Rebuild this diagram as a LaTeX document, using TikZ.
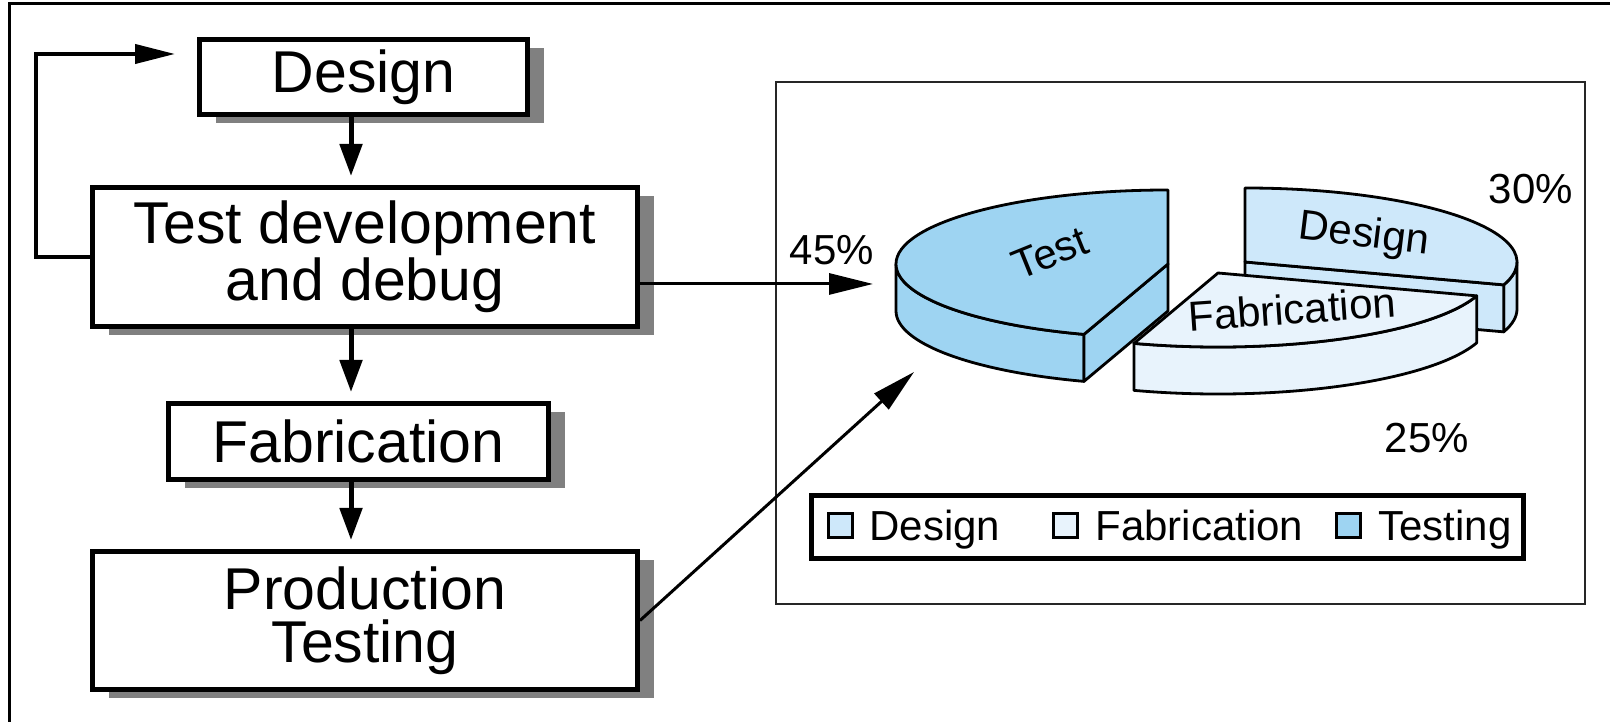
\documentclass[tikz,border=0pt]{standalone}
\usepackage{fontspec}
\setmainfont{Liberation Sans}
\usetikzlibrary{arrows.meta,shadows,calc}
\definecolor{testblue}{RGB}{158,212,242}
\definecolor{designblue}{RGB}{206,232,250}
\definecolor{fabblue}{RGB}{232,243,252}
\definecolor{shadowgray}{RGB}{128,128,128}
\begin{document}
\begin{tikzpicture}[x=0.5pt,y=0.5pt,
  flowbox/.style={draw=black, line width=2.5pt, fill=white, inner sep=0pt, align=center,
    font=\fontsize{29.5}{26.5}\selectfont,
    drop shadow={shadow xshift=8pt, shadow yshift=-4.5pt, fill=shadowgray, opacity=1}},
  flowarrow/.style={line width=2.5pt, -{Triangle[length=16pt,width=11pt]}, shorten >=4.5pt},
  looparrow/.style={line width=2pt, -{Triangle[length=20pt,width=9.5pt]}, shorten >=11pt},
  piearrow/.style={line width=1.5pt, -{Triangle[length=22pt,width=10.5pt]}},
  slice/.style={draw=black, line width=1.4pt, line join=round},
  smalltext/.style={font=\fontsize{21}{24}\selectfont, inner sep=0pt},
  legsq/.style={draw=black, line width=1.5pt, minimum size=12pt, inner sep=0pt},
  pr/.style={x radius=136pt, y radius=37pt}
]
\useasboundingbox (0,0) rectangle (1610,722);
% outer frame
\draw[line width=1.5pt] (9,0) -- (9,718) -- (1610,718);

% flowchart
\node[flowbox, minimum width=164pt, minimum height=37.5pt] (design) at (363.5,645) {Design};
\node[flowbox, minimum width=272.5pt, minimum height=69.5pt] (test) at (365,465) {Test development\\and debug};
\node[flowbox, minimum width=190pt, minimum height=38pt] (fab) at (358.5,280.5) {Fabrication};
\node[flowbox, minimum width=272.5pt, minimum height=69pt] (prod) at (365,101.5) {Production\\Testing};

\coordinate (ax) at (351,0);
\coordinate (fb) at (36,668);
\draw[flowarrow] (design.south -| ax) -- (test.north -| ax);
\draw[flowarrow] (test.south -| ax) -- (fab.north -| ax);
\draw[flowarrow] (fab.south -| ax) -- (prod.north -| ax);
\draw[looparrow] (test.west) -| (fb) -- (design.west |- fb);

% right panel
\draw[line width=1pt, draw=black!85] (776,118) rectangle (1585,640);

% pie chart
\coordinate (dc) at (1245,460);
\coordinate (tc) at (1168,458);
\coordinate (fc) at (1218,449);

% Design slice (342 -> 450)
\filldraw[slice, fill=designblue] ($(dc)+(342:136pt and 37pt)$) arc[pr, start angle=342, end angle=360] -- ++(0,-23.5pt) arc[pr, start angle=360, end angle=342] -- cycle;
\filldraw[slice, fill=designblue] (dc) -- ($(dc)+(342:136pt and 37pt)$) -- ++(0,-23.5pt) -- ([yshift=-23.5pt]dc) -- cycle;
\filldraw[slice, fill=designblue] (dc) -- ($(dc)+(342:136pt and 37pt)$) arc[pr, start angle=342, end angle=450] -- cycle;

% Test slice (90 -> 252)
\filldraw[slice, fill=testblue] ($(tc)+(180:136pt and 37pt)$) arc[pr, start angle=180, end angle=252] -- ++(0,-23.5pt) arc[pr, start angle=252, end angle=180] -- cycle;
\filldraw[slice, fill=testblue] (tc) -- ($(tc)+(252:136pt and 37pt)$) -- ++(0,-23.5pt) -- ([yshift=-23.5pt]tc) -- cycle;
\filldraw[slice, fill=testblue] (tc) -- ($(tc)+(90:136pt and 37pt)$) arc[pr, start angle=90, end angle=252] -- cycle;

% Fabrication slice (252 -> 342)
\filldraw[slice, fill=fabblue] ($(fc)+(252:136pt and 37pt)$) arc[pr, start angle=252, end angle=342] -- ++(0,-23.5pt) arc[pr, start angle=342, end angle=252] -- cycle;
\filldraw[slice, fill=fabblue] (fc) -- ($(fc)+(252:136pt and 37pt)$) arc[pr, start angle=252, end angle=342] -- cycle;

% slice labels
\node[smalltext, rotate=22] (ltest) at (1050,469) {Test};
\node[smalltext, rotate=-7] (ldesign) at (1364,486) {Design};
\node[smalltext, rotate=4] (lfab) at (1292,413) {Fabrication};

% percentages
\node[smalltext] (p45) at (832,472) {45\%};
\node[smalltext] (p30) at (1531,533) {30\%};
\node[smalltext] (p25) at (1427,284) {25\%};

% arrows to pie
\coordinate (pieL) at (873,438);
\coordinate (pieB) at (914,350);
\draw[piearrow] (test.east |- pieL) -- (pieL);
\draw[piearrow] (prod.east) -- (pieB);

% legend
\node[draw=black, line width=2.5pt, minimum width=356pt, minimum height=31.5pt, inner sep=0pt] (legend) at (1167,195) {};
\node[legsq, fill=designblue] (sqd) at (840,196) {};
\node[smalltext, anchor=base west] (txd) at (869,181) {Design};
\node[legsq, fill=fabblue] (sqf) at (1065,196) {};
\node[smalltext, anchor=base west] (txf) at (1095,181) {Fabrication};
\node[legsq, fill=testblue] (sqt) at (1348,196) {};
\node[smalltext, anchor=base west] (txt) at (1378,181) {Testing};
\end{tikzpicture}
\end{document}
